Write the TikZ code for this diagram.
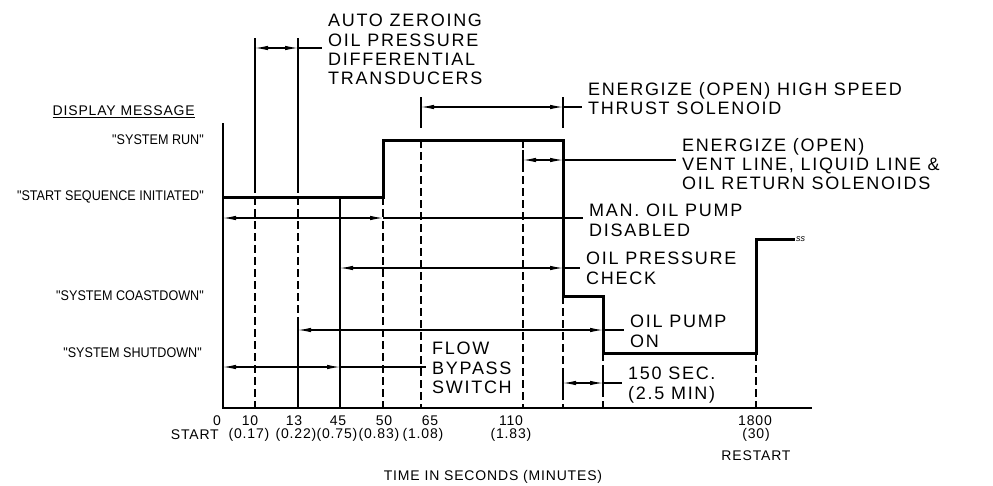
\documentclass[tikz,border=0pt]{standalone}
\usepackage{fontspec}
\setmainfont{Liberation Sans}
\newfontfamily\draftwide[LetterSpace=6]{Liberation Sans}
\newfontfamily\draftnote[LetterSpace=9.5]{Liberation Sans}
\newfontfamily\draftnarrow[FakeStretch=0.9]{Liberation Sans}
\usetikzlibrary{arrows.meta}

\begin{document}
\begin{tikzpicture}[
		x=1pt, y=-1pt,
		sig/.style={line width=3pt, line join=miter},
		ext/.style={line width=1.1pt},
		guide/.style={line width=1.1pt, dash pattern=on 8pt off 4pt},
		dim/.style={line width=1.1pt, {Latex[length=13pt,width=4.5pt]}-{Latex[length=13pt,width=4.5pt]}},
		lead/.style={line width=1.1pt, shorten >=6pt},
		msg/.style={anchor=east, inner sep=0pt, font=\draftnarrow\fontsize{14}{16}\selectfont},
		tick/.style={inner sep=0pt, font=\draftwide\fontsize{14}{16}\selectfont},
		note/.style={anchor=north west, align=left, inner sep=0pt, font=\draftnote\fontsize{18}{19.3}\selectfont}
		]
		\useasboundingbox (0,0) rectangle (993,485);
		
		% time marks on the axis
		\coordinate (t0) at (223,408);
		\coordinate (t10) at (255,408);
		\coordinate (t13) at (298,408);
		\coordinate (t45) at (340,408);
		\coordinate (t50) at (383,408);
		\coordinate (t65) at (421,408);
		\coordinate (t110) at (523,408);
		\coordinate (tOff) at (563,408);
		\coordinate (tPump) at (603,408);
		\coordinate (t1800) at (756,408);
		\coordinate (tEnd) at (812,408);
		
		% levels and heights
		\coordinate (lTop) at (223,123);
		\coordinate (lRun) at (223,140);
		\coordinate (lSeq) at (223,197);
		\coordinate (lRe) at (223,239);
		\coordinate (lCoast) at (223,296);
		\coordinate (lShut) at (223,353);
		\coordinate (brk) at (795,239);
		\coordinate (eAuto) at (0,38);
		\coordinate (dAuto) at (0,48);
		\coordinate (eAutoEnd) at (0,185);
		\coordinate (eHigh) at (0,97);
		\coordinate (dHigh) at (0,107);
		\coordinate (eHighEnd) at (0,128);
		\coordinate (eVent) at (0,150);
		\coordinate (dVent) at (0,160);
		\coordinate (eVentEnd) at (0,172);
		\coordinate (dMan) at (0,218);
		\coordinate (dChk) at (0,268);
		\coordinate (ePump) at (0,325);
		\coordinate (dPump) at (0,330);
		\coordinate (dFlow) at (0,367);
		\coordinate (eSec) at (0,372);
		\coordinate (dSec) at (0,383);
		\coordinate (eSecEnd) at (0,395);
		
		\node[msg, font=\draftwide\fontsize{14}{16}\selectfont] (disp) at (195,112) {\underline{DISPLAY MESSAGE}};
		\node[msg] (mRun) at (204,140) {"SYSTEM RUN"};
		\node[msg] (mSeq) at (204,197) {"START SEQUENCE INITIATED"};
		\node[msg] (mCoast) at (204,296) {"SYSTEM COASTDOWN"};
		\node[msg] (mShut) at (202,353) {"SYSTEM SHUTDOWN"};
		
		\node[note] (zero) at (328,14) {AUTO ZEROING\\OIL PRESSURE\\DIFFERENTIAL\\TRANSDUCERS};
		\node[note] (high) at (588,82) {ENERGIZE (OPEN) HIGH SPEED\\THRUST SOLENOID};
		\node[note] (vent) at (682,138) {ENERGIZE (OPEN)\\VENT LINE, LIQUID LINE \&\\OIL RETURN SOLENOIDS};
		\node[note] (man) at (589,204) {MAN. OIL PUMP\\DISABLED};
		\node[note] (chk) at (586,252) {OIL PRESSURE\\CHECK};
		\node[note] (pump) at (630,315) {OIL PUMP\\ON};
		\node[note] (flow) at (432,342) {FLOW\\BYPASS\\SWITCH};
		\node[note] (sec) at (628,367) {150 SEC.\\(2.5 MIN)};
		
		\draw[ext] (lTop) -- (t0) -- (tEnd);
		\draw[ext] (t10 |- eAuto) -- (t10 |- eAutoEnd);
		\draw[guide] (t10 |- eAutoEnd) -- (t10);
		\draw[ext] (t13 |- eAuto) -- (t13 |- eAutoEnd);
		\draw[guide] (t13 |- eAutoEnd) -- (t13 |- ePump);
		\draw[ext] (t13 |- ePump) -- (t13);
		\draw[ext] (t45 |- lSeq) -- (t45);
		\draw[guide] (t50 |- lSeq) -- (t50);
		\draw[ext] (t65 |- eHigh) -- (t65 |- eHighEnd);
		\draw[guide] (t65 |- lRun) -- (t65);
		\draw[guide] (t110 |- lRun) -- (t110);
		\draw[ext] (t110 |- eVent) -- (t110 |- eVentEnd);
		\draw[ext] (tOff |- eHigh) -- (tOff |- eHighEnd);
		\draw[guide] (tOff |- lCoast) -- (tOff);
		\draw[ext] (tOff |- eSec) -- (tOff |- eSecEnd);
		\draw[guide] (tPump |- lShut) -- (tPump);
		\draw[ext] (tPump |- eSec) -- (tPump |- eSecEnd);
		\draw[guide] (t1800 |- lShut) -- (t1800);
		
		\draw[sig] (lSeq) -| (t50 |- lRun) -| (tOff |- lCoast) -| (tPump |- lShut) -| (t1800 |- lRe) -- (brk);
		\node[anchor=west, inner sep=1pt, font=\itshape\fontsize{9}{9}\selectfont] (ss) at (brk) {ss};
		
		\draw[dim] (t10 |- dAuto) -- (t13 |- dAuto);
		\draw[lead] (t13 |- dAuto) -- (zero.west |- dAuto);
		\draw[dim] (t65 |- dHigh) -- (tOff |- dHigh);
		\draw[lead] (tOff |- dHigh) -- (high.west |- dHigh);
		\draw[dim] (t110 |- dVent) -- (tOff |- dVent);
		\draw[lead] (tOff |- dVent) -- (vent.west |- dVent);
		\draw[dim] (t0 |- dMan) -- (t50 |- dMan);
		\draw[lead] (t50 |- dMan) -- (man.west |- dMan);
		\draw[dim] (t45 |- dChk) -- (tOff |- dChk);
		\draw[lead] (tOff |- dChk) -- (chk.west |- dChk);
		\draw[dim] (t13 |- dPump) -- (tPump |- dPump);
		\draw[lead] (tPump |- dPump) -- (pump.west |- dPump);
		\draw[dim] (t0 |- dFlow) -- (t45 |- dFlow);
		\draw[lead] (t45 |- dFlow) -- (flow.west |- dFlow);
		\draw[dim] (tOff |- dSec) -- (tPump |- dSec);
		\draw[lead] (tPump |- dSec) -- (sec.west |- dSec);
		
		\node[tick] (n0) at (217,421) {0};
		\node[tick] (n10) at (250,421) {10};
		\node[tick] (n13) at (294,421) {13};
		\node[tick] (n45) at (338,421) {45};
		\node[tick] (n50) at (384,421) {50};
		\node[tick] (n65) at (430,421) {65};
		\node[tick] (n110) at (511,421) {110};
		\node[tick] (n1800) at (755,421) {1800};
		\node[tick, anchor=east] (start) at (219,435) {START};
		\node[tick] (m10) at (249,435) {(0.17)};
		\node[tick] (m13) at (296,435) {(0.22)};
		\node[tick] (m45) at (337,435) {(0.75)};
		\node[tick] (m50) at (379,435) {(0.83)};
		\node[tick] (m65) at (423,435) {(1.08)};
		\node[tick] (m110) at (511,435) {(1.83)};
		\node[tick] (m1800) at (756,435) {(30)};
		\node[tick] (restart) at (756,456) {RESTART};
		\node[tick] (caption) at (493,477) {TIME IN SECONDS (MINUTES)};
	\end{tikzpicture}
\end{document}
